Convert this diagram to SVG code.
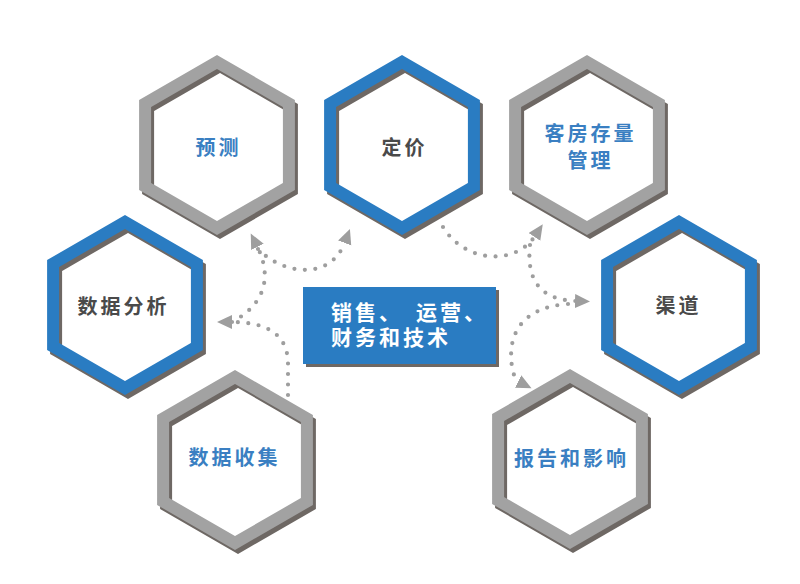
<svg xmlns="http://www.w3.org/2000/svg" xmlns:xlink="http://www.w3.org/1999/xlink" width="800" height="584" viewBox="0 0 800 584">
<style>
.hx{fill:none;stroke-width:12;stroke-linejoin:miter;stroke-miterlimit:4}
.sh{stroke:#6e6864}
.gray{stroke:#a2a2a2}
.blue{stroke:#2a7cc2}
.lb{font-family:"Noto Sans CJK SC","Noto Sans",sans-serif;font-size:20px;font-weight:700;letter-spacing:3px;text-anchor:middle}
.tb{fill:#3a7fc2}
.td{fill:#4a4a4a}
.ct{font-family:"Noto Sans CJK SC","Noto Sans",sans-serif;font-size:21px;font-weight:700;fill:#ffffff}
.dot{fill:none;stroke:#9e9e9e;stroke-width:4.2;stroke-linecap:round;stroke-dasharray:0 10.5;marker-end:url(#arr)}
</style>
<defs>
<polygon id="hex" points="0,-83 71.9,-41.5 71.9,41.5 0,83 -71.9,41.5 -71.9,-41.5"/>
<marker id="arr" markerUnits="userSpaceOnUse" markerWidth="17" markerHeight="15" refX="1" refY="7" orient="auto">
<path d="M0,0 L15,7 L0,14 z" fill="#9e9e9e"/>
</marker>
</defs>
<rect width="800" height="584" fill="#ffffff"/>

<g id="connectors">
<path class="dot" d="M288,395 L288,362 C287,335 268,322 231,322"/>
<path class="dot" d="M232,322 C262,306 274,280 257,246"/>
<path class="dot" d="M258,249 C282,274 330,282 345,242"/>
<path class="dot" d="M443,227 C465,263 515,266 535,236"/>
<path class="dot" d="M530,245 C526,282 542,300 576,301"/>
<path class="dot" d="M568,304 C522,307 505,335 513,372 C515,378 517,381 519,382"/>
</g>

<g id="n-yuce" transform="translate(217,145)">
<use xlink:href="#hex" class="hx sh" x="3" y="4"/>
<use xlink:href="#hex" class="hx gray"/>
<text class="lb tb" x="1.5" y="10">预测</text>
</g>

<g id="n-dingjia" transform="translate(402,145)">
<use xlink:href="#hex" class="hx sh" x="3" y="4"/>
<use xlink:href="#hex" class="hx blue"/>
<text class="lb td" x="2.5" y="10">定价</text>
</g>

<g id="n-kefang" transform="translate(587,145)">
<use xlink:href="#hex" class="hx sh" x="3" y="4"/>
<use xlink:href="#hex" class="hx gray"/>
<text class="lb tb" x="3.5" y="-4">客房存量</text>
<text class="lb tb" x="3.5" y="23">管理</text>
</g>

<g id="n-qudao" transform="translate(679,305)">
<use xlink:href="#hex" class="hx sh" x="3" y="4"/>
<use xlink:href="#hex" class="hx blue"/>
<text class="lb td" x="-0.5" y="8">渠道</text>
</g>

<g id="n-fenxi" transform="translate(125,305)">
<use xlink:href="#hex" class="hx sh" x="3" y="4"/>
<use xlink:href="#hex" class="hx blue"/>
<text class="lb td" x="-1.5" y="9">数据分析</text>
</g>

<g id="n-shouji" transform="translate(235,460)">
<use xlink:href="#hex" class="hx sh" x="3" y="4"/>
<use xlink:href="#hex" class="hx gray"/>
<text class="lb tb" x="-0.5" y="5">数据收集</text>
</g>

<g id="n-baogao" transform="translate(570,459)">
<use xlink:href="#hex" class="hx sh" x="3" y="4"/>
<use xlink:href="#hex" class="hx gray"/>
<text class="lb tb" x="1.5" y="7">报告和影响</text>
</g>

<g id="n-center">
<rect x="306" y="290" width="193" height="77" fill="#6e6864"/>
<rect x="303" y="287" width="193" height="77" fill="#2a7cc2"/>
<text class="ct"><tspan x="331 355 379 416 440 464" y="320">销售、运营、</tspan><tspan x="331 355 379 403 427" y="345">财务和技术</tspan></text>
</g>
</svg>
